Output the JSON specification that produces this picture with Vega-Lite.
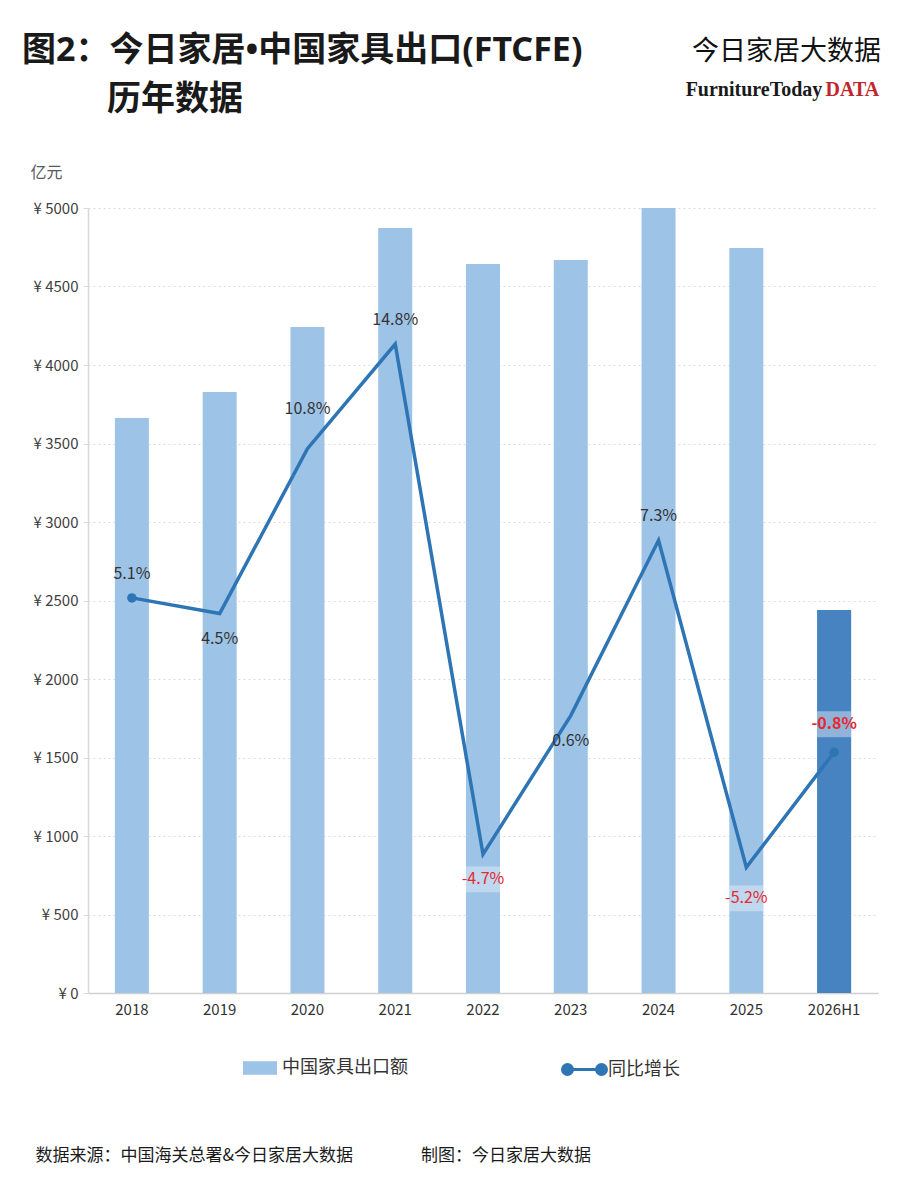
{
  "$schema": "https://vega.github.io/schema/vega-lite/v6.json",
  "autosize": {"type": "none"},
  "width": 790,
  "height": 785,
  "padding": {"left": 88, "top": 208, "right": 22, "bottom": 207},
  "background": "white",
  "config": {
    "view": {"stroke": null},
    "font": "Noto Sans CJK SC",
    "locale": {"number": {"decimal": ".", "thousands": ",", "grouping": [3], "currency": ["", ""], "minus": "-"}}
  },
  "title": {
    "text": ["图2：今日家居•中国家具出口(FTCFE)", "\u200b　　\u2002历年数据"],
    "anchor": "start",
    "frame": "group",
    "dx": -66,
    "offset": -80,
    "fontSize": 34,
    "fontWeight": "bold",
    "font": "Noto Sans, Noto Sans CJK SC",
    "color": "#1a1a1a",
    "lineHeight": 49
  },
  "data": {
    "values": [
      {"year": "2018", "amount": 3662, "growth": 0.051},
      {"year": "2019", "amount": 3828, "growth": 0.045},
      {"year": "2020", "amount": 4242, "growth": 0.108},
      {"year": "2021", "amount": 4873, "growth": 0.148},
      {"year": "2022", "amount": 4643, "growth": -0.047},
      {"year": "2023", "amount": 4669, "growth": 0.006},
      {"year": "2024", "amount": 5000, "growth": 0.073},
      {"year": "2025", "amount": 4745, "growth": -0.052},
      {"year": "2026H1", "amount": 2439, "growth": -0.008}
    ]
  },
  "layer": [
    {
      "mark": {"type": "bar", "width": 34},
      "encoding": {
        "x": {
          "field": "year", "type": "nominal",
          "scale": {"domain": ["2018","2019","2020","2021","2022","2023","2024","2025","2026H1"], "paddingInner": 0.6, "paddingOuter": 0.3},
          "axis": {
            "orient": "bottom",
            "labelAngle": 0,
            "labelFontSize": 15,
            "labelColor": "#333333",
            "labelPadding": 9,
            "ticks": false,
            "domainColor": "#d0d0d0",
            "domainWidth": 1.5,
            "title": "数据来源：中国海关总署&今日家居大数据　　　　制图：今日家居大数据",
            "titleX": -53,
            "titleY": 162,
            "titleAlign": "left",
            "titleBaseline": "middle",
            "titleFontSize": 17,
            "titleFontWeight": "normal",
            "titleColor": "#1a1a1a"
          }
        },
        "y": {
          "field": "amount", "type": "quantitative",
          "scale": {"domain": [0, 5000], "nice": false},
          "axis": {
            "orient": "left",
            "values": [0,500,1000,1500,2000,2500,3000,3500,4000,4500,5000],
            "labelExpr": "'¥ ' + datum.value",
            "labelFontSize": 15,
            "labelColor": "#404040",
            "labelPadding": 5,
            "tickSize": 5,
            "tickColor": "#d9d9d9",
            "domainColor": "#d9d9d9",
            "domainWidth": 1.5,
            "grid": true,
            "gridColor": "#dcdcdc",
            "gridDash": [2, 3],
            "title": "亿元",
            "titleX": -58,
            "titleY": -36,
            "titleAngle": 0,
            "titleAlign": "left",
            "titleBaseline": "middle",
            "titleFontSize": 16,
            "titleFontWeight": "normal",
            "titleColor": "#595959"
          }
        },
        "fill": {
          "datum": "中国家具出口额",
          "scale": {"range": ["#9dc3e6"]},
          "legend": {
            "orient": "none",
            "legendX": 155,
            "legendY": 843,
            "title": null,
            "symbolType": "M-1,-0.4H1V0.4H-1Z",
            "symbolSize": 1156,
            "symbolStrokeWidth": 0,
            "labelFontSize": 18,
            "labelColor": "#333333",
            "labelOffset": 5
          }
        }
      }
    },
    {
      "transform": [{"filter": "datum.year == '2026H1'"}],
      "mark": {"type": "bar", "width": 34, "color": "#4683c0"},
      "encoding": {
        "x": {"field": "year", "type": "nominal", "axis": null},
        "y": {"field": "amount", "type": "quantitative", "scale": {"domain": [0, 5000], "nice": false}, "axis": null}
      }
    },
    {
      "mark": {"type": "line", "strokeWidth": 3.5},
      "encoding": {
        "x": {
          "field": "year", "type": "nominal",
          "axis": {
            "orient": "top",
            "domain": false,
            "ticks": false,
            "grid": false,
            "labelAngle": 0,
            "labelOverlap": false,
            "labelBound": false,
            "labelExpr": "datum.value == '2025' ? 'FurnitureToday' : ''",
            "labelFont": "Liberation Serif",
            "labelFontWeight": "bold",
            "labelFontSize": 20,
            "labelColor": "#1a1a1a",
            "labelAlign": "right",
            "labelOffset": 76,
            "labelBaseline": "alphabetic",
            "labelPadding": 113,
            "title": "今日家居大数据",
            "titleX": 698,
            "titleY": -157,
            "titleAlign": "center",
            "titleBaseline": "middle",
            "titleFontSize": 27,
            "titleFontWeight": "normal",
            "titleColor": "#111111"
          }
        },
        "y": {
          "field": "growth", "type": "quantitative",
          "scale": {"domain": [-0.1, 0.2], "nice": false, "zero": false},
          "axis": {
            "orient": "right",
            "values": [0.2],
            "labelExpr": "'DATA'",
            "domain": false,
            "ticks": false,
            "grid": false,
            "labelBound": false,
            "labelFlush": false,
            "labelOverlap": false,
            "labelFont": "Liberation Serif",
            "labelFontWeight": "bold",
            "labelFontSize": 20,
            "labelColor": "#c0272d",
            "labelAlign": "left",
            "labelBaseline": "alphabetic",
            "labelPadding": -53,
            "labelOffset": -113,
            "title": null
          }
        },
        "stroke": {
          "datum": "同比增长",
          "scale": {"range": ["#2e75b6"]},
          "legend": {
            "orient": "none",
            "legendX": 475,
            "legendY": 840,
            "title": null,
            "symbolType": "M-0.85,0H0.85M-0.6,0A0.25,0.25 0 1,1 -1.1,0A0.25,0.25 0 1,1 -0.6,0M1.1,0A0.25,0.25 0 1,1 0.6,0A0.25,0.25 0 1,1 1.1,0",
            "symbolSize": 1600,
            "symbolStrokeWidth": 3,
            "symbolFillColor": "#2e75b6",
            "labelFontSize": 18,
            "labelColor": "#333333",
            "labelOffset": 2,
            "encode": {"symbols": {"update": {"fill": {"value": "#2e75b6"}}}}
          }
        }
      }
    },
    {
      "transform": [{"filter": {"field": "year", "oneOf": ["2018", "2026H1"]}}],
      "mark": {"type": "point", "filled": true, "size": 90, "color": "#2e75b6", "opacity": 1},
      "encoding": {
        "x": {"field": "year", "type": "nominal", "axis": null},
        "y": {"field": "growth", "type": "quantitative", "scale": {"domain": [-0.1, 0.2], "nice": false, "zero": false}, "axis": null}
      }
    },
    {
      "transform": [{"filter": {"field": "year", "oneOf": ["2022"]}}],
      "mark": {"type": "point", "shape": "M-1,-0.76H1V0.76H-1Z", "size": 1156, "filled": true, "color": "white", "opacity": 0.35, "strokeWidth": 0, "yOffset": 25},
      "encoding": {
        "x": {"field": "year", "type": "nominal", "axis": null},
        "y": {"field": "growth", "type": "quantitative", "scale": {"domain": [-0.1, 0.2], "nice": false, "zero": false}, "axis": null}
      }
    },
    {
      "transform": [{"filter": {"field": "year", "oneOf": ["2025"]}}],
      "mark": {"type": "point", "shape": "M-1,-0.76H1V0.76H-1Z", "size": 1156, "filled": true, "color": "white", "opacity": 0.35, "strokeWidth": 0, "yOffset": 31},
      "encoding": {
        "x": {"field": "year", "type": "nominal", "axis": null},
        "y": {"field": "growth", "type": "quantitative", "scale": {"domain": [-0.1, 0.2], "nice": false, "zero": false}, "axis": null}
      }
    },
    {
      "transform": [{"filter": {"field": "year", "oneOf": ["2026H1"]}}],
      "mark": {"type": "point", "shape": "M-1,-0.76H1V0.76H-1Z", "size": 1156, "filled": true, "color": "white", "opacity": 0.4, "strokeWidth": 0, "yOffset": -28},
      "encoding": {
        "x": {"field": "year", "type": "nominal", "axis": null},
        "y": {"field": "growth", "type": "quantitative", "scale": {"domain": [-0.1, 0.2], "nice": false, "zero": false}, "axis": null}
      }
    },
    {
      "transform": [{"filter": {"field": "year", "oneOf": ["2018", "2021", "2024"]}}],
      "mark": {"type": "text", "fontSize": 16, "baseline": "middle", "yOffset": -24, "color": "#333333"},
      "encoding": {
        "x": {"field": "year", "type": "nominal", "axis": null},
        "y": {"field": "growth", "type": "quantitative", "scale": {"domain": [-0.1, 0.2], "nice": false, "zero": false}, "axis": null},
        "text": {"field": "growth", "type": "quantitative", "format": ".1%"}
      }
    },
    {
      "transform": [{"filter": {"field": "year", "oneOf": ["2020"]}}],
      "mark": {"type": "text", "fontSize": 16, "baseline": "middle", "yOffset": -40, "color": "#333333"},
      "encoding": {
        "x": {"field": "year", "type": "nominal", "axis": null},
        "y": {"field": "growth", "type": "quantitative", "scale": {"domain": [-0.1, 0.2], "nice": false, "zero": false}, "axis": null},
        "text": {"field": "growth", "type": "quantitative", "format": ".1%"}
      }
    },
    {
      "transform": [{"filter": {"field": "year", "oneOf": ["2019", "2022", "2023"]}}],
      "mark": {"type": "text", "fontSize": 16, "baseline": "middle", "yOffset": 25},
      "encoding": {
        "x": {"field": "year", "type": "nominal", "axis": null},
        "y": {"field": "growth", "type": "quantitative", "scale": {"domain": [-0.1, 0.2], "nice": false, "zero": false}, "axis": null},
        "text": {"field": "growth", "type": "quantitative", "format": ".1%"},
        "color": {"condition": {"test": "datum.growth < 0", "value": "#e8272e"}, "value": "#333333"}
      }
    },
    {
      "transform": [{"filter": {"field": "year", "oneOf": ["2025"]}}],
      "mark": {"type": "text", "fontSize": 16, "baseline": "middle", "yOffset": 31, "color": "#e8272e"},
      "encoding": {
        "x": {"field": "year", "type": "nominal", "axis": null},
        "y": {"field": "growth", "type": "quantitative", "scale": {"domain": [-0.1, 0.2], "nice": false, "zero": false}, "axis": null},
        "text": {"field": "growth", "type": "quantitative", "format": ".1%"}
      }
    },
    {
      "transform": [{"filter": {"field": "year", "oneOf": ["2026H1"]}}],
      "mark": {"type": "text", "fontSize": 16, "fontWeight": "bold", "baseline": "middle", "yOffset": -28, "color": "#e8272e"},
      "encoding": {
        "x": {"field": "year", "type": "nominal", "axis": null},
        "y": {"field": "growth", "type": "quantitative", "scale": {"domain": [-0.1, 0.2], "nice": false, "zero": false}, "axis": null},
        "text": {"field": "growth", "type": "quantitative", "format": ".1%"}
      }
    }
  ],
  "resolve": {"scale": {"y": "independent"}}
}
